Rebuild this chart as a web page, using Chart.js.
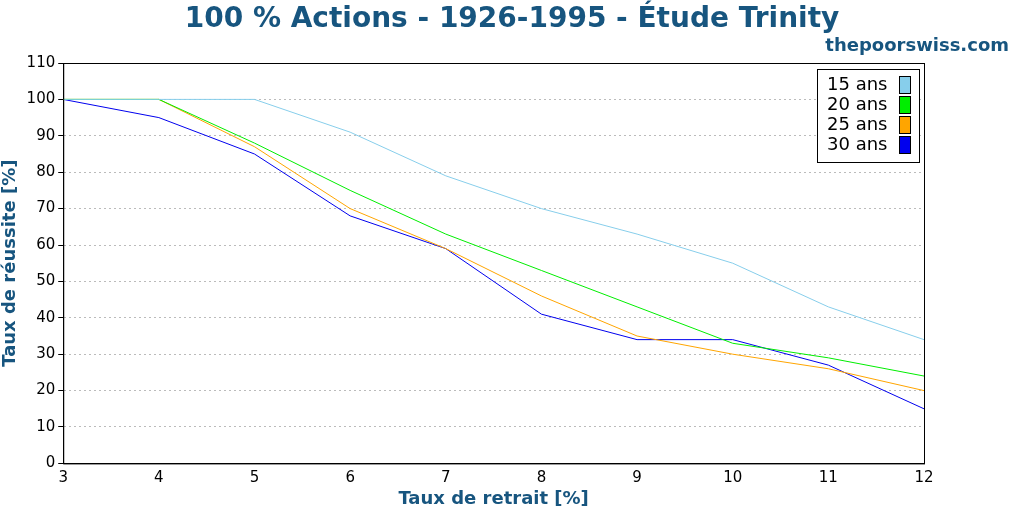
<!DOCTYPE html><html><head><meta charset="utf-8">
<script src="https://cdn.jsdelivr.net/npm/chart.js@4"></script>
<style>html,body{margin:0;background:#fff}#w{width:1024px;height:512px}</style></head><body>
<div id="w"><canvas id="c"></canvas></div>
<script>
const rates=[3,4,5,6,7,8,9,10,11,12];
const s15=[100,100,100,91,79,70,63,55,43,34];
const s20=[100,100,88,75,63,53,43,33,29,24];
const s25=[100,100,87,70,59,46,35,30,26,20];
const s30=[100,95,85,68,59,41,34,34,27,15];
const names=['15 ans','20 ans','25 ans','30 ans'];
const colors=['#87ceeb','#00ee00','#ffa500','#0000ee'];
const series=[s15,s20,s25,s30];
const blue='#17557f';
const F='DejaVu Sans';
const deco={id:'deco',afterDraw(ch){const c=ch.ctx,a=ch.chartArea;c.save();
c.fillStyle=blue;c.textAlign='center';c.textBaseline='alphabetic';c.font='bold 28px '+F;
c.fillText('100 % Actions - 1926-1995 - Étude Trinity',512,27);
c.textBaseline='middle';
c.textAlign='right';c.font='bold 18px '+F;c.fillText('thepoorswiss.com',1009,46);
c.strokeStyle='#000';c.lineWidth=1;c.strokeRect(a.left+0.5,a.top+0.5,a.right-a.left,a.bottom-a.top);
const x0=817,y0=69,w=102,h=93;c.fillStyle='#fff';c.fillRect(x0,y0,w,h);c.strokeRect(x0+0.5,y0+0.5,w,h);
c.font='18px '+F;c.textAlign='left';
names.forEach((n,i)=>{const y=y0+16+i*20;c.fillStyle='#000';c.fillText(n,x0+10,y);
c.fillStyle=colors[i];c.fillRect(x0+82,y-9,12,18);c.strokeStyle='#000';c.strokeRect(x0+82.5,y-8.5,11,17);});
c.restore();}};
new Chart(document.getElementById('c'),{type:'line',
data:{datasets:series.map((s,i)=>({label:names[i],data:s.map((v,j)=>({x:rates[j],y:v})),borderColor:colors[i],borderWidth:1,pointRadius:0,tension:0}))},
options:{responsive:true,maintainAspectRatio:false,animation:false,
layout:{padding:{top:63,right:100,left:0,bottom:0}},
plugins:{legend:{display:false},tooltip:{enabled:false}},
scales:{x:{type:'linear',min:3,max:12,ticks:{stepSize:1,padding:1,color:'#000',font:{family:F,size:15}},grid:{display:false,drawTicks:true,tickLength:5},border:{color:'#000'},
title:{display:true,text:'Taux de retrait [%]',color:blue,font:{family:F,size:18,weight:'bold'},padding:{top:0,bottom:2}}},
y:{min:0,max:110,ticks:{stepSize:10,padding:3,color:'#000',font:{family:F,size:15}},grid:{color:'#bbb',tickColor:'#000',tickLength:5},border:{color:'#000',dash:[2,3]},
title:{display:true,text:'Taux de réussite [%]',color:blue,font:{family:F,size:18,weight:'bold'},padding:{top:0,bottom:2}}}}},
plugins:[deco]});
</script></body></html>
